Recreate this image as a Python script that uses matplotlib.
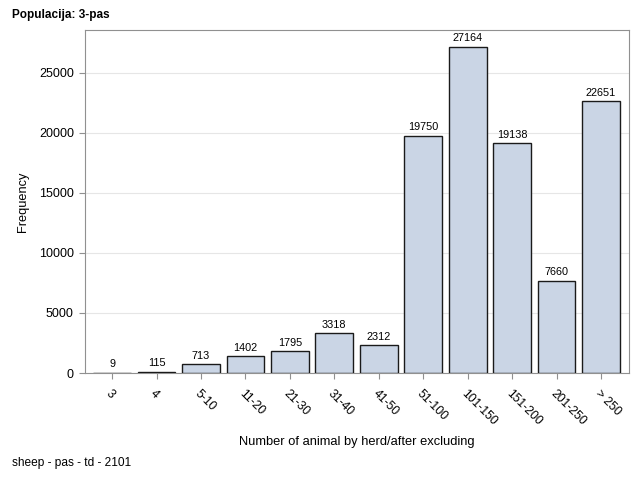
import matplotlib
matplotlib.use('Agg')
import matplotlib.pyplot as plt

categories = ['3', '4', '5-10', '11-20', '21-30', '31-40', '41-50',
              '51-100', '101-150', '151-200', '201-250', '> 250']
freq = [9, 115, 713, 1402, 1795, 3318, 2312, 19750, 27164, 19138, 7660, 22651]
yticks = [0, 5000, 10000, 15000, 20000, 25000]

plt.rcParams['font.family'] = ['Liberation Sans', 'DejaVu Sans']

fig = plt.figure(figsize=(6.4, 4.8), dpi=100)
ax = fig.add_axes([85 / 640, 107 / 480, 544 / 640, 343 / 480])

x = list(range(len(categories)))
bars = ax.bar(x, freq, width=0.85, color='#CAD5E5', edgecolor='#1a1a1a',
              linewidth=1.0, zorder=3)
for xi, v in zip(x, freq):
    ax.text(xi, v + 300, str(v), ha='center', va='bottom', fontsize=7.8, color='black')

ax.set_xlim(-0.61, len(categories) - 0.37)
ax.set_ylim(0, 28583)
ax.set_yticks(yticks)
ax.set_yticklabels([str(t) for t in yticks], fontsize=9)
ax.set_xticks(x)
ax.set_xticklabels(categories, rotation=-45, ha='left', va='top',
                   rotation_mode='anchor', fontsize=8.8)
ax.tick_params(axis='x', pad=6)
ax.grid(axis='y', color='#e6e6e6', linewidth=0.8, zorder=0)
ax.tick_params(colors='#909090', labelcolor='black', length=4.5)
for s in ax.spines.values():
    s.set_color('#909090')

ax.set_ylabel('Frequency', fontsize=9.2, labelpad=7)
ax.set_xlabel('Number of animal by herd/after excluding', fontsize=9.3, labelpad=6)

fig.text(12 / 640, 1 - 15 / 480, 'Populacija: 3-pas', fontsize=8.5, fontweight='bold',
         va='center', ha='left')
fig.text(12 / 640, 1 - 463 / 480, 'sheep - pas - td - 2101', fontsize=8.6,
         va='center', ha='left')

fig.savefig('out.png', dpi=100)
